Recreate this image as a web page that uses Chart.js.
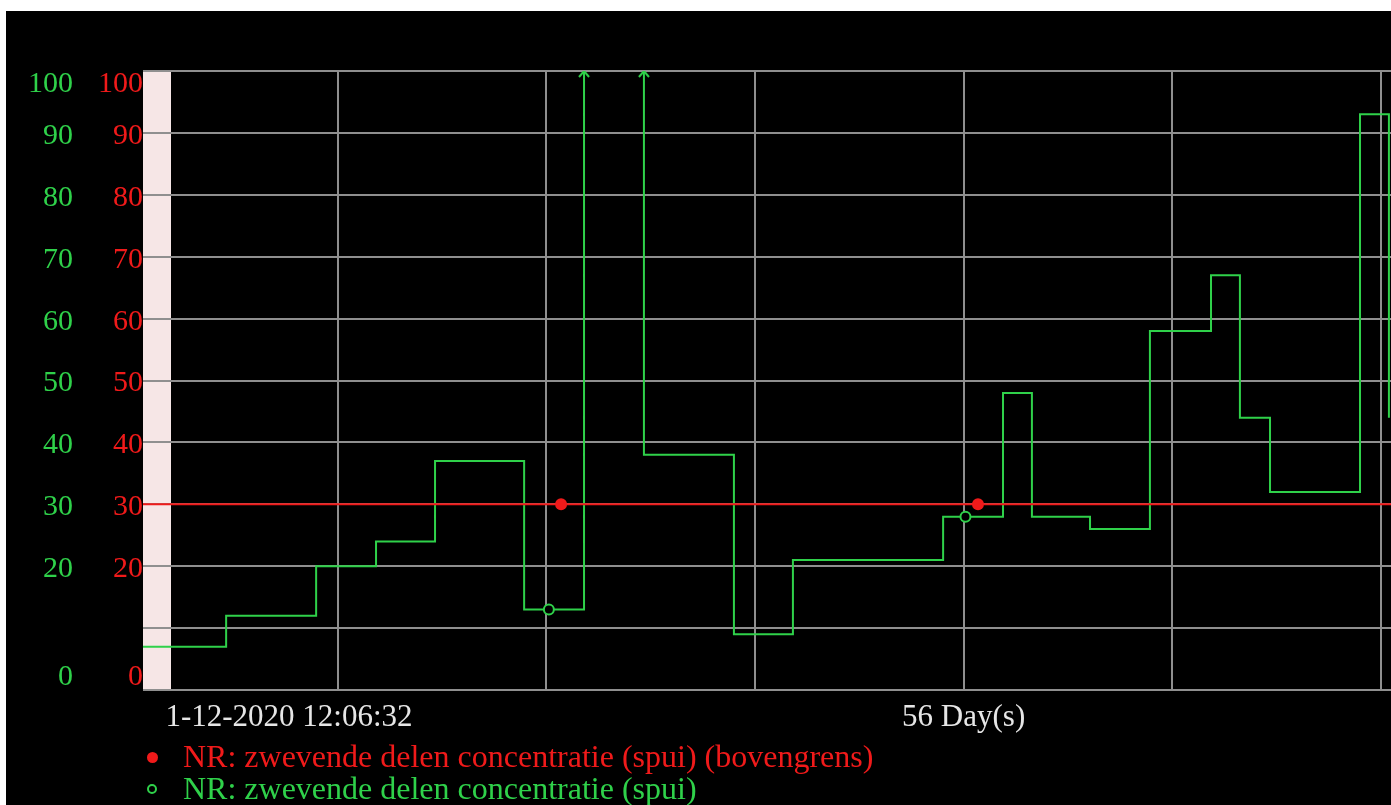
<!DOCTYPE html>
<html>
<head>
<meta charset="utf-8">
<script src="https://cdn.jsdelivr.net/npm/chart.js@4.4.1/dist/chart.umd.min.js"></script>
<style>
  body { margin: 0; background: #fff; }
  #wrap { position: absolute; left: 6px; top: 11px; width: 1385px; height: 794px; background: #000; overflow: hidden; }
  #legend { position: absolute; left: 0; top: 0; width: 100%; font-family: 'Liberation Serif', 'Times New Roman', serif; font-size: 32px; }
  .row { position: absolute; left: 0; height: 33px; line-height: 33px; white-space: nowrap; }
  .mark { position: absolute; border-radius: 50%; box-sizing: border-box; }
  .txt { position: absolute; left: 177px; top: 0; }
</style>
</head>
<body>
<div id="wrap"><canvas id="chart"></canvas><div id="legend"></div></div>
<script>
// x = days since 1-12-2020 12:06:32
const spuiDays   = [0, 2.79, 5.81, 7.82, 9.80, 12.79, 13.62, 14.80, 16.81, 19.83, 21.81, 26.85, 27.60, 28.86, 29.83, 31.78, 33.79, 35.84, 36.81, 37.82, 40.84, 41.81];
const spuiValues = [7, 12, 20, 24, 37, 13, 13, 130, 38, 9, 21, 28, 28, 48, 28, 26, 58, 67, 44, 32, 93, 44];
const spuiMarkers = [13.62, 27.60];

const limitDays   = [0, 14.03, 28.02, 41.88];
const limitValues = [30, 30, 30, 30];
const limitMarkers = [14.03, 28.02];

const bandDays = [0, 0.94];

const xGridDays   = [6.54, 13.54, 20.54, 27.54, 34.54, 41.54];
const xTickDays   = [4.9, 27.54];
const xTickLabels = ['1-12-2020 12:06:32', '56 Day(s)'];
const yTicks = [0, 20, 30, 40, 50, 60, 70, 80, 90, 100];

const yMin = 0, yMax = 100, xMax = 41.88;
const green = '#2fd14a';
const red = '#f01a1a';
const gridGray = '#8f8f8f';
const font = "'Liberation Serif', 'Times New Roman', serif";
const yEdgeNudge = 2.1;   // end labels sit inside the plot
const yLabelDrop = 0.5;   // labels sit a little below their grid line

Chart.defaults.font.family = font;

// open chevron used where the series runs off the top of the scale
const arrow = document.createElement('canvas');
arrow.width = 14; arrow.height = 14;
const actx = arrow.getContext('2d');
actx.strokeStyle = green;
actx.lineWidth = 2;
actx.beginPath();
actx.moveTo(2, 13); actx.lineTo(7, 7); actx.lineTo(12, 13);
actx.stroke();

const arrowDays = [];
spuiValues.forEach((v, i) => {
    if (v > yMax) {
        arrowDays.push(spuiDays[i]);
        if (i + 1 < spuiDays.length) arrowDays.push(spuiDays[i + 1]);
    }
});

const pts = (xs, ys) => xs.map((x, i) => ({x: x, y: ys[i]}));

const labelAxis = (color, width, pad, weight) => ({
    type: 'linear',
    position: 'left',
    weight: weight,
    min: yMin,
    max: yMax,
    grid: {display: false, drawTicks: false},
    border: {display: false},
    afterBuildTicks: (s) => {
        s.ticks = yTicks.map(v => {
            let p = v - yLabelDrop;
            if (v === yMin) p = v + yEdgeNudge;
            if (v === yMax) p = v - yEdgeNudge;
            return {value: p};
        });
    },
    afterFit: (s) => { s.width = width; },
    ticks: {
        color: color,
        padding: pad,
        font: {size: 30},
        callback: (v) => String(Math.round(v / 10) * 10)
    }
});

const chart = new Chart(document.getElementById('chart'), {
    type: 'line',
    data: {
        datasets: [
            {
                label: 'NR: zwevende delen concentratie (spui) (bovengrens)',
                data: pts(limitDays, limitValues),
                borderColor: red,
                borderWidth: 2,
                pointRadius: (ctx) => limitMarkers.includes(ctx.raw && ctx.raw.x) ? 6 : 0,
                pointBackgroundColor: red,
                pointBorderWidth: 0,
                yAxisID: 'y'
            },
            {
                label: 'NR: zwevende delen concentratie (spui)',
                data: pts(spuiDays, spuiValues),
                stepped: 'before',
                borderColor: green,
                borderWidth: 2,
                pointRadius: (ctx) => spuiMarkers.includes(ctx.raw && ctx.raw.x) ? 5 : 0,
                pointBackgroundColor: '#000',
                pointBorderColor: green,
                pointBorderWidth: 2,
                yAxisID: 'y'
            },
            {
                data: arrowDays.map(x => ({x: x, y: yMax})),
                showLine: false,
                pointStyle: arrow,
                pointRadius: 7,
                yAxisID: 'y'
            },
            {
                data: bandDays.map(x => ({x: x, y: yMax})),
                borderWidth: 0,
                pointRadius: 0,
                backgroundColor: '#f6e6e6',
                fill: 'start',
                yAxisID: 'y'
            }
        ]
    },
    options: {
        responsive: true,
        maintainAspectRatio: false,
        animation: false,
        layout: {autoPadding: false, padding: {left: 7, top: 60, right: 0, bottom: 65}},
        plugins: {
            legend: {display: false},
            tooltip: {enabled: false},
            filler: {drawTime: 'beforeDraw'}
        },
        scales: {
            x: {
                type: 'linear',
                min: 0,
                max: xMax,
                border: {display: false},
                afterBuildTicks: (s) => {
                    const vals = xGridDays.concat(xTickDays.filter(v => !xGridDays.includes(v)));
                    s.ticks = vals.sort((a, b) => a - b).map(v => ({value: v}));
                },
                afterFit: (s) => { s.height = 50; s.paddingLeft = 0; s.paddingRight = 0; },
                grid: {
                    drawTicks: false,
                    lineWidth: 2,
                    color: (ctx) => ctx.tick && xGridDays.includes(ctx.tick.value) ? gridGray : 'transparent'
                },
                ticks: {
                    autoSkip: false,
                    maxRotation: 0,
                    minRotation: 0,
                    padding: 9,
                    color: '#e6e6e6',
                    font: {size: 31},
                    callback: (v) => {
                        const i = xTickDays.indexOf(v);
                        return i >= 0 ? xTickLabels[i] : '';
                    }
                }
            },
            y: {
                type: 'linear',
                position: 'left',
                weight: 0,
                min: yMin,
                max: yMax,
                border: {display: false},
                afterFit: (s) => { s.width = 0; },
                grid: {drawTicks: false, color: gridGray, lineWidth: 2},
                ticks: {display: false, stepSize: 10}
            },
            yRed: labelAxis(red, 50, 0, 1),
            yGreen: labelAxis(green, 80, 20, 2)
        }
    }
});

// legend rows below the chart, built from the labelled datasets
const legendBox = document.getElementById('legend');
const legendTop = 729, legendGap = 32, markX = 146;
chart.data.datasets.filter(d => d.label).forEach((d, i) => {
    const row = document.createElement('div');
    row.className = 'row';
    row.style.top = (legendTop + i * legendGap) + 'px';
    const filled = d.pointBackgroundColor !== '#000';
    const r = filled ? 5.5 : 5;
    const mark = document.createElement('span');
    mark.className = 'mark';
    mark.style.left = (markX - r) + 'px';
    mark.style.top = (17 - r) + 'px';
    mark.style.width = mark.style.height = (2 * r) + 'px';
    if (filled) {
        mark.style.background = d.pointBackgroundColor;
    } else {
        mark.style.border = '2px solid ' + d.pointBorderColor;
    }
    const txt = document.createElement('span');
    txt.className = 'txt';
    txt.style.color = d.borderColor;
    txt.textContent = d.label;
    row.append(mark, txt);
    legendBox.appendChild(row);
});
</script>
</body>
</html>
